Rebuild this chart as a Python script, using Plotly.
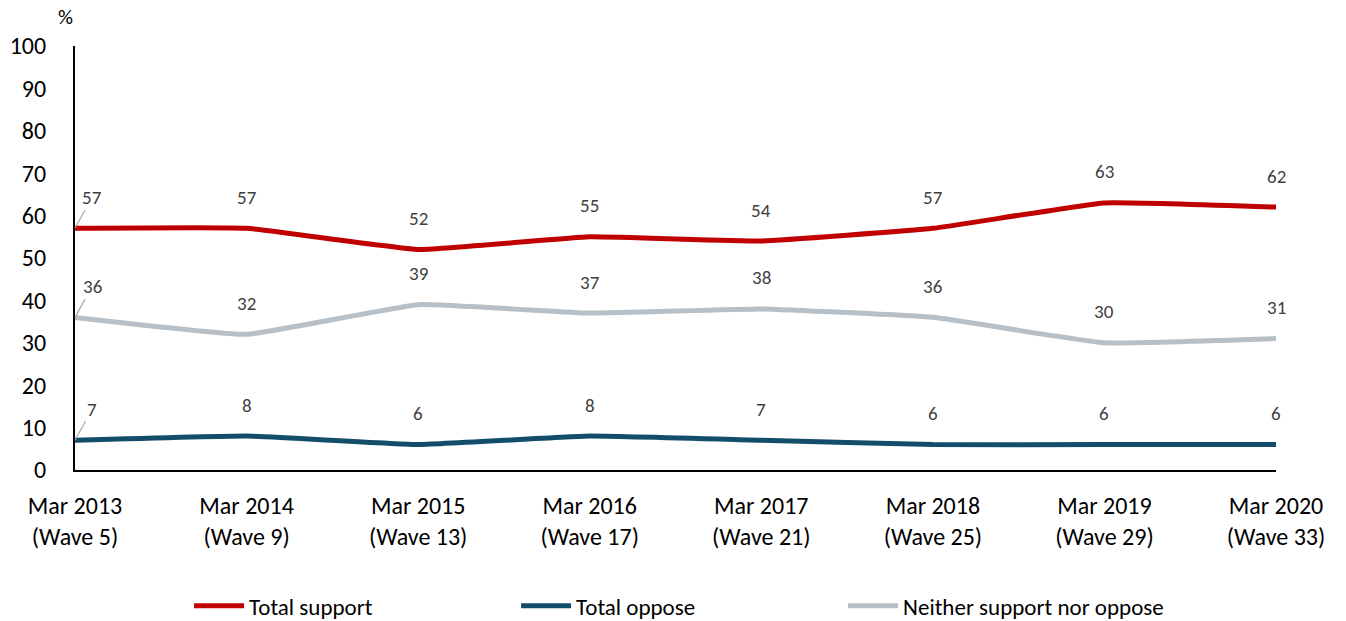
import plotly.graph_objects as go

categories = ["Mar 2013<br>(Wave 5)", "Mar 2014<br>(Wave 9)", "Mar 2015<br>(Wave 13)",
              "Mar 2016<br>(Wave 17)", "Mar 2017<br>(Wave 21)", "Mar 2018<br>(Wave 25)",
              "Mar 2019<br>(Wave 29)", "Mar 2020<br>(Wave 33)"]
total_support = [57, 57, 52, 55, 54, 57, 63, 62]
total_oppose = [7, 8, 6, 8, 7, 6, 6, 6]
neither = [36, 32, 39, 37, 38, 36, 30, 31]
y_ticks = [0, 10, 20, 30, 40, 50, 60, 70, 80, 90, 100]

FONT = "Carlito, Calibri, Lato, sans-serif"
x = list(range(len(categories)))

series = [
    ("Total support", total_support, "#C00000"),
    ("Total oppose", total_oppose, "#124E6C"),
    ("Neither support nor oppose", neither, "#B6C0C6"),
]

fig = go.Figure()
for name, vals, col in series:
    fig.add_trace(go.Scatter(x=x, y=vals, mode="lines", name=name,
                             line=dict(color=col, width=5, shape="spline", smoothing=0.3)))

annotations = []
for name, vals, col in series:
    for i, v in enumerate(vals):
        if i == 0:
            annotations.append(dict(x=i, y=v, xref="x", yref="y", text=str(v),
                                    showarrow=True, arrowhead=0, arrowwidth=1.2,
                                    arrowcolor="#A6A6A6", ax=17, ay=-31, standoff=0,
                                    font=dict(family=FONT, size=19, color="#404040")))
        else:
            annotations.append(dict(x=i, y=v, xref="x", yref="y", text=str(v),
                                    showarrow=False, yshift=31, yanchor="middle",
                                    font=dict(family=FONT, size=19, color="#404040")))

annotations.append(dict(x=0.0, y=1.0, xref="paper", yref="paper", text="%",
                        showarrow=False, xanchor="right", yanchor="bottom", yshift=14,
                        font=dict(family=FONT, size=21, color="#000000")))

fig.update_layout(
    width=1346, height=621,
    margin=dict(l=75, r=70, t=46, b=151, autoexpand=False),
    paper_bgcolor="white", plot_bgcolor="white",
    font=dict(family=FONT, size=24, color="#000000"),
    annotations=annotations,
    showlegend=True,
    legend=dict(orientation="h", x=0.095, y=-0.32, xanchor="left", yanchor="middle",
                font=dict(family=FONT, size=23, color="#000000"),
                entrywidth=262, entrywidthmode="pixels", itemwidth=50),
    xaxis=dict(range=[0, 7], tickvals=x, ticktext=categories, showgrid=False,
               showline=True, linecolor="#000000", linewidth=2, ticks="", zeroline=False,
               automargin=False,
               tickfont=dict(family=FONT, size=24, color="#000000"), ticklabelstandoff=13),
    yaxis=dict(range=[0, 100], tickvals=y_ticks, showgrid=False, showline=True,
               linecolor="#000000", linewidth=2, ticks="", zeroline=False,
               automargin=False,
               tickfont=dict(family=FONT, size=24, color="#000000"), ticklabelstandoff=22),
)

fig.write_html("out.html")
